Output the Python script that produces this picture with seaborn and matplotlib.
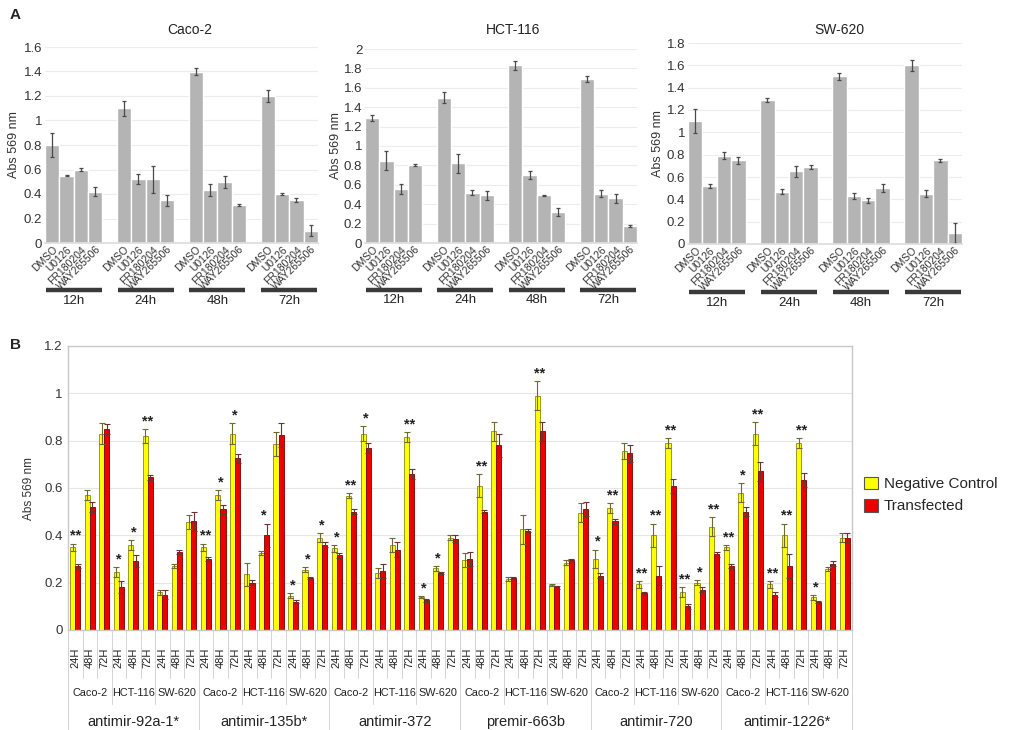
import numpy as np
import pandas as pd
import matplotlib
matplotlib.use("Agg")
import matplotlib.pyplot as plt
import matplotlib.transforms as mtrans
from matplotlib.ticker import FuncFormatter, MultipleLocator
import seaborn as sns

sns.set_theme(style="white")
plt.rcParams['font.family'] = ['Liberation Sans', 'DejaVu Sans']

# ---------------- Panel A data ----------------
drugs = ["DMSO", "U0126", "FR180204", "WAY265506"]
timepoints_a = ["12h", "24h", "48h", "72h"]

caco2_vals = [0.80, 0.55, 0.60, 0.42, 1.10, 0.52, 0.52, 0.35,
              1.40, 0.43, 0.50, 0.31, 1.20, 0.40, 0.35, 0.10]
caco2_err = [0.10, 0.005, 0.015, 0.04, 0.06, 0.04, 0.11, 0.045,
             0.025, 0.05, 0.05, 0.01, 0.05, 0.005, 0.015, 0.045]
hct_vals = [1.29, 0.85, 0.56, 0.80, 1.50, 0.82, 0.52, 0.49,
            1.83, 0.70, 0.49, 0.32, 1.69, 0.51, 0.46, 0.18]
hct_err = [0.03, 0.10, 0.05, 0.01, 0.06, 0.10, 0.03, 0.045,
           0.05, 0.04, 0.01, 0.04, 0.03, 0.04, 0.05, 0.01]
sw_vals = [1.10, 0.52, 0.79, 0.75, 1.29, 0.47, 0.65, 0.69,
           1.50, 0.43, 0.39, 0.50, 1.60, 0.45, 0.75, 0.10]
sw_err = [0.11, 0.02, 0.03, 0.03, 0.02, 0.02, 0.05, 0.02,
          0.03, 0.025, 0.02, 0.035, 0.05, 0.03, 0.015, 0.09]

# ---------------- Panel B data ----------------
mir_groups = ["antimir-92a-1*", "antimir-135b*", "antimir-372",
              "premir-663b", "antimir-720", "antimir-1226*"]
cell_lines = ["Caco-2", "HCT-116", "SW-620"]
times_b = ["24H", "48H", "72H"]

neg_ctrl = [0.35, 0.57, 0.83, 0.245, 0.36, 0.82, 0.16, 0.27, 0.455,
            0.35, 0.57, 0.83, 0.235, 0.325, 0.785, 0.145, 0.255, 0.39,
            0.345, 0.567, 0.83, 0.24, 0.36, 0.815, 0.14, 0.26, 0.39,
            0.295, 0.61, 0.84, 0.215, 0.425, 0.99, 0.19, 0.285, 0.495,
            0.30, 0.515, 0.757, 0.193, 0.40, 0.79, 0.16, 0.20, 0.437,
            0.35, 0.58, 0.83, 0.193, 0.40, 0.79, 0.138, 0.258, 0.39]
transf = [0.27, 0.52, 0.85, 0.18, 0.29, 0.645, 0.15, 0.33, 0.46,
          0.30, 0.51, 0.725, 0.20, 0.40, 0.825, 0.12, 0.22, 0.36,
          0.315, 0.50, 0.77, 0.25, 0.34, 0.66, 0.125, 0.24, 0.385,
          0.30, 0.50, 0.78, 0.22, 0.42, 0.84, 0.18, 0.295, 0.51,
          0.23, 0.46, 0.746, 0.155, 0.23, 0.61, 0.10, 0.17, 0.32,
          0.27, 0.50, 0.67, 0.15, 0.27, 0.635, 0.117, 0.28, 0.39]
neg_err = [0.015, 0.02, 0.045, 0.02, 0.02, 0.03, 0.01, 0.01, 0.03,
           0.015, 0.02, 0.045, 0.05, 0.01, 0.05, 0.01, 0.01, 0.02,
           0.015, 0.01, 0.03, 0.02, 0.03, 0.02, 0.005, 0.01, 0.01,
           0.03, 0.05, 0.04, 0.01, 0.06, 0.06, 0.005, 0.01, 0.04,
           0.04, 0.02, 0.035, 0.015, 0.05, 0.02, 0.02, 0.01, 0.04,
           0.01, 0.04, 0.05, 0.015, 0.05, 0.02, 0.01, 0.01, 0.02]
tf_err = [0.01, 0.02, 0.02, 0.025, 0.025, 0.01, 0.02, 0.01, 0.04,
          0.01, 0.02, 0.02, 0.01, 0.05, 0.05, 0.005, 0.005, 0.01,
          0.01, 0.01, 0.02, 0.03, 0.03, 0.02, 0.005, 0.005, 0.015,
          0.03, 0.005, 0.05, 0.005, 0.005, 0.04, 0.005, 0.005, 0.03,
          0.01, 0.01, 0.035, 0.005, 0.04, 0.03, 0.01, 0.01, 0.01,
          0.01, 0.02, 0.04, 0.01, 0.05, 0.03, 0.005, 0.01, 0.02]
stars = ["**", "", "", "*", "*", "**", "", "", "",
         "**", "*", "*", "", "*", "", "*", "*", "*",
         "*", "**", "*", "", "", "**", "*", "*", "",
         "", "**", "", "", "", "**", "", "", "",
         "*", "**", "", "**", "**", "**", "**", "*", "**",
         "**", "*", "**", "**", "**", "**", "*", "", ""]
cond_names = ["Negative Control", "Transfected"]

# ---------------- Figure ----------------
fig = plt.figure(figsize=(10.11, 7.30), dpi=100)
W, H = 1011, 730


def px_axes(l, t, r, b):
    return fig.add_axes([l / W, 1 - b / H, (r - l) / W, (b - t) / H])


fmt = FuncFormatter(lambda v, p: f"{v:g}")

panelA_specs = [
    (px_axes(45, 47, 318, 243), caco2_vals, caco2_err, "Caco-2", 1.6, 190, 20),
    (px_axes(365, 49, 637, 243), hct_vals, hct_err, "HCT-116", 2.0, 513, 342),
    (px_axes(688, 43, 962, 244), sw_vals, sw_err, "SW-620", 1.8, 839, 664),
]

for ax, vals, errs, title, ymax, tx, ylx in panelA_specs:
    keys, order = [], []
    for gi, t in enumerate(timepoints_a):
        for d in drugs:
            keys.append(f"{t}|{d}")
            order.append(f"{t}|{d}")
        if gi < len(timepoints_a) - 1:
            order.append(f"gap{gi}")
    df = pd.DataFrame({"cat": keys, "val": vals})
    sns.barplot(data=df, x="cat", y="val", order=order, color="#b4b4b4",
                saturation=1, width=1.0, edgecolor="white", linewidth=1.0,
                errorbar=None, ax=ax)
    pos = [order.index(k) for k in keys]
    ax.errorbar(pos, vals, yerr=errs, fmt="none", ecolor="#4a4a4a",
                elinewidth=0.9, capsize=1.6, capthick=0.9)
    ax.set_xlim(-0.5, len(order) - 0.5)
    ax.set_ylim(0, ymax)
    ax.yaxis.set_major_locator(MultipleLocator(0.2))
    ax.yaxis.set_major_formatter(fmt)
    ax.grid(axis="y", color="#ececec", linewidth=0.8)
    ax.set_axisbelow(True)
    for s in ["top", "right", "left"]:
        ax.spines[s].set_visible(False)
    ax.spines["bottom"].set_color("#dddddd")
    ax.set_xticks(pos)
    ax.set_xticklabels(drugs * len(timepoints_a), rotation=45, ha="right",
                       va="top", rotation_mode="anchor", fontsize=7.5,
                       color="#333333")
    ax.tick_params(axis="x", length=0, pad=1)
    ax.tick_params(axis="y", length=0, pad=2, labelsize=9.5,
                   labelcolor="#333333")
    ax.set_xlabel("")
    ax.set_ylabel("Abs 569 nm", fontsize=9, color="#333333")
    l = ax.get_position().x0 * W
    w = ax.get_position().width * W
    ax.yaxis.set_label_coords((ylx - l) / w, 0.5)
    trans = mtrans.blended_transform_factory(ax.transData, ax.transAxes)
    for gi, t in enumerate(timepoints_a):
        x0 = gi * 5 - 0.5
        x1 = gi * 5 + 3.5
        ax.plot([x0 + 0.05, x1 - 0.05], [-0.24, -0.24], transform=trans,
                clip_on=False, color="#3a3a3a", linewidth=3.2,
                solid_capstyle="butt")
        ax.text((x0 + x1) / 2, -0.265, t, transform=trans, ha="center",
                va="top", fontsize=9.5, color="#222222")
    fig.text(tx / W, 1 - 30 / H, title, ha="center", va="center",
             fontsize=10, color="#222222")

fig.text(10 / W, 1 - 15 / H, "A", fontsize=11, fontweight="bold",
         ha="left", va="center")
fig.text(10 / W, 1 - 345 / H, "B", fontsize=11, fontweight="bold",
         ha="left", va="center")

# ---------------- Panel B ----------------
axb = px_axes(68, 346, 852, 630)
cats, rows_cat, rows_cond, rows_val = [], [], [], []
for gi, g in enumerate(mir_groups):
    for ci, c in enumerate(cell_lines):
        for ti, t in enumerate(times_b):
            cats.append(f"{g}|{c}|{t}")
for i, k in enumerate(cats):
    rows_cat += [k, k]
    rows_cond += cond_names
    rows_val += [neg_ctrl[i], transf[i]]
dfb = pd.DataFrame({"cat": rows_cat, "cond": rows_cond, "val": rows_val})
sns.barplot(data=dfb, x="cat", y="val", hue="cond", order=cats,
            hue_order=cond_names, palette=["#ffff00", "#ee0000"],
            saturation=1, width=0.7, errorbar=None, ax=axb)
edge_cols = ["#8a8a10", "#7a0000"]
centers = []
for cont, ec in zip(axb.containers, edge_cols):
    xs = []
    for p in cont.patches:
        p.set_edgecolor(ec)
        p.set_linewidth(0.6)
        xs.append(p.get_x() + p.get_width() / 2)
    centers.append(xs)
axb.errorbar(centers[0], neg_ctrl, yerr=neg_err, fmt="none",
             ecolor="#6b6b30", elinewidth=0.8, capsize=2, capthick=0.8)
axb.errorbar(centers[1], transf, yerr=tf_err, fmt="none",
             ecolor="#6b3030", elinewidth=0.8, capsize=2, capthick=0.8)
for i, s in enumerate(stars):
    if s:
        top = max(neg_ctrl[i] + neg_err[i], transf[i] + tf_err[i])
        axb.text(i, top + 0.003, s, ha="center", va="bottom", fontsize=10.5,
                 fontweight="bold", color="#222222")

axb.set_xlim(-0.5, len(cats) - 0.5)
axb.set_ylim(0, 1.2)
axb.yaxis.set_major_locator(MultipleLocator(0.2))
axb.yaxis.set_major_formatter(fmt)
axb.grid(axis="y", color="#e6e6e6", linewidth=0.8)
axb.set_axisbelow(True)
for s in axb.spines.values():
    s.set_color("#c8c8c8")
    s.set_linewidth(1.0)
axb.set_xticks([])
axb.set_xlabel("")
axb.tick_params(axis="y", length=0, pad=4, labelsize=9.5,
                labelcolor="#333333")
axb.set_ylabel("Abs 569 nm", fontsize=8.5, color="#333333")
axb.yaxis.set_label_coords((35 - 68) / 784, 0.5)

transb = mtrans.blended_transform_factory(axb.transData, axb.transAxes)
for i in range(len(cats) + 1):
    x = i - 0.5
    if i % 9 == 0:
        depth = -0.352
    elif i % 3 == 0:
        depth = -0.262
    else:
        depth = -0.170
    axb.plot([x, x], [0, depth], transform=transb, clip_on=False,
             color="#d4d4d4", linewidth=0.7)
for i, k in enumerate(cats):
    axb.text(i, -0.098, times_b[i % 3], transform=transb, rotation=90,
             ha="center", va="center", fontsize=8, color="#222222")
for gi, g in enumerate(mir_groups):
    for ci, c in enumerate(cell_lines):
        axb.text(gi * 9 + ci * 3 + 1, -0.222, c, transform=transb,
                 ha="center", va="center", fontsize=7.8, color="#222222")
    axb.text(gi * 9 + 4, -0.324, g, transform=transb, ha="center",
             va="center", fontsize=10.5, color="#222222")

leg = axb.get_legend()
handles = leg.legend_handles
labels = [t.get_text() for t in leg.get_texts()]
leg.remove()
for h in handles:
    h.set_edgecolor("#555555")
    h.set_linewidth(0.8)
fig.legend(handles, labels, loc="center left",
           bbox_to_anchor=(861 / W, 1 - 495 / H), frameon=False,
           fontsize=11, handlelength=0.9, handleheight=0.9,
           handletextpad=0.4, labelspacing=0.5, borderpad=0.2,
           borderaxespad=0)

fig.savefig("out.png", dpi=100)
